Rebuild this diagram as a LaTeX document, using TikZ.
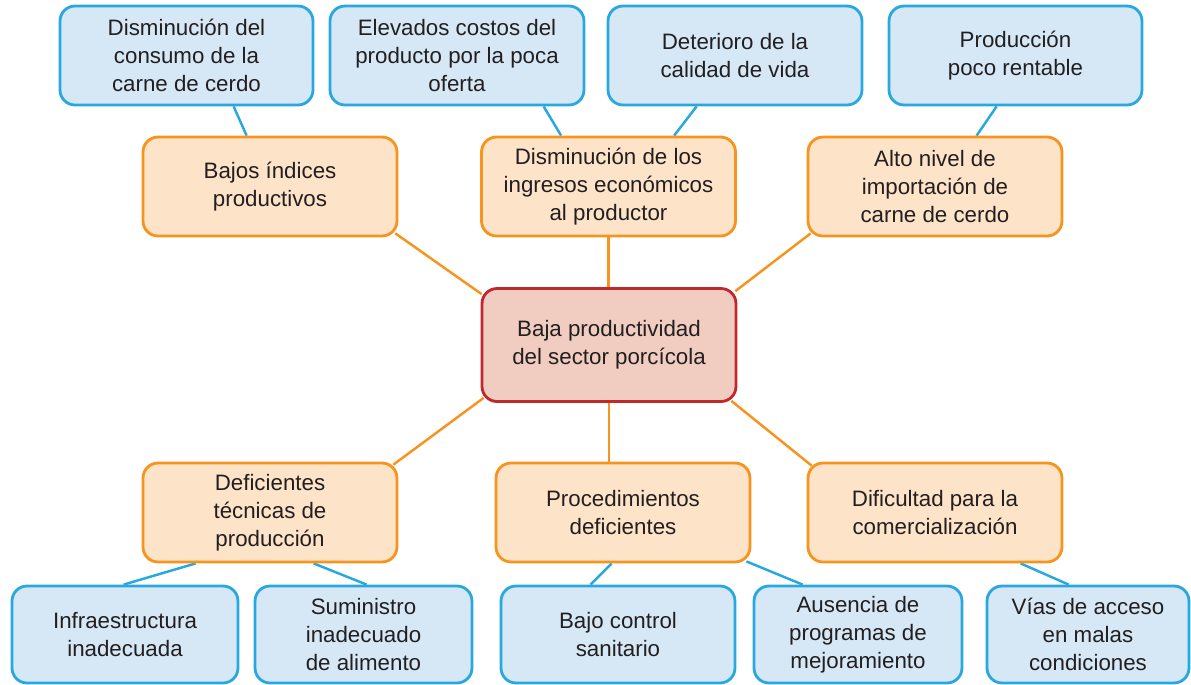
\documentclass[tikz,border=0pt]{standalone}
\usepackage{fontspec}
\setmainfont{Liberation Sans}
\usetikzlibrary{calc,backgrounds}
\definecolor{bl}{HTML}{29A8E0}
\definecolor{blf}{HTML}{D6E8F5}
\definecolor{orn}{HTML}{F7941D}
\definecolor{ornf}{HTML}{FDE3C8}
\definecolor{rd}{HTML}{C1272D}
\definecolor{rdf}{HTML}{F0CDC0}
\definecolor{txt}{HTML}{231F20}
\tikzset{
  box/.style={rounded corners=0.3cm, line width=1.6pt, align=center, inner sep=0pt,
    text=txt, font=\fontsize{12.7}{15.9}\selectfont},
  bluebox/.style={box, draw=bl, fill=blf},
  orangebox/.style={box, draw=orn, fill=ornf, minimum width=5.08cm, minimum height=1.98cm},
  redbox/.style={box, draw=rd, fill=rdf},
  blink/.style={draw=bl, line width=1.4pt},
  olink/.style={draw=orn, line width=1.4pt}
}
\begin{document}
\begin{tikzpicture}[x=0.02cm,y=-0.02cm]
\useasboundingbox (0,0) rectangle (1191,684);
% top blue row
\node[bluebox, minimum width=5.06cm, minimum height=1.98cm] (b1) at (186.5,55.5) {Disminución del\\consumo de la\\carne de cerdo};
\node[bluebox, minimum width=5.08cm, minimum height=1.98cm] (b2) at (457,55.5) {Elevados costos del\\producto por la poca\\oferta};
\node[bluebox, minimum width=5.08cm, minimum height=1.98cm] (b3) at (735,55.5) {Deterioro de la\\calidad de vida};
\node[bluebox, minimum width=5.06cm, minimum height=1.98cm] (b4) at (1015.5,55.5) {Producción\\poco rentable};
% top orange row
\node[orangebox] (o1) at (270,186.5) {Bajos índices\\productivos};
\node[orangebox] (o2) at (608.5,186.5) {Disminución de los\\ingresos económicos\\al productor};
\node[orangebox] (o3) at (935,186.5) {Alto nivel de\\importación de\\carne de cerdo};
% center
\node[redbox, minimum width=5.08cm, minimum height=2.26cm] (c) at (609,345) {Baja productividad\\del sector porcícola};
% bottom orange row
\node[orangebox] (o4) at (270,512.5) {Deficientes\\técnicas de\\producción};
\node[orangebox] (o5) at (623,512.5) {Procedimientos\\deficientes};
\node[orangebox] (o6) at (935,512.5) {Dificultad para la\\comercialización};
% bottom blue row
\node[bluebox, minimum width=4.52cm, minimum height=1.94cm] (l1) at (125,634.5) {Infraestructura\\inadecuada};
\node[bluebox, minimum width=4.34cm, minimum height=1.94cm] (l2) at (363.5,634.5) {Suministro\\inadecuado\\de alimento};
\node[bluebox, minimum width=4.68cm, minimum height=1.94cm] (l3) at (618,634.5) {Bajo control\\sanitario};
\node[bluebox, minimum width=4.16cm, minimum height=1.94cm] (l4) at (858,634.5) {Ausencia de\\programas de\\mejoramiento};
\node[bluebox, minimum width=4.04cm, minimum height=1.94cm] (l5) at (1088,634.5) {Vías de acceso\\en malas\\condiciones};
\begin{scope}[on background layer]
% blue links top
\draw[blink] ($(b1.south west)+(175,0)$) -- ($(o1.north west)+(105,0)$);
\draw[blink] ($(b2.south west)+(215,0)$) -- ($(o2.north west)+(81,0)$);
\draw[blink] ($(b3.south west)+(90,0)$) -- ($(o2.north west)+(194,0)$);
\draw[blink] ($(b4.south west)+(109,0)$) -- ($(o3.north west)+(170,0)$);
% orange links
\draw[olink] ($(o1.south east)+(-3,-4)$) -- ($(c.north west)+(1,7)$);
\draw[olink] (o2.south) -- (o2.south |- c.north);
\draw[olink] ($(o3.south west)+(4,-4)$) -- ($(c.north east)+(-2,4)$);
\draw[olink] ($(c.south west)+(3,-5)$) -- ($(o4.north east)+(-5,3)$);
\draw[olink] (c.south) -- (c.south |- o5.north);
\draw[olink] ($(c.south east)+(-6,-2)$) -- ($(o6.north west)+(5,4)$);
% blue links bottom
\draw[blink] ($(o4.south west)+(54,0)$) -- ($(l1.north west)+(113,0)$);
\draw[blink] ($(o4.south west)+(172,0)$) -- ($(l2.north west)+(113,0)$);
\draw[blink] ($(o5.south west)+(117,0)$) -- ($(l3.north west)+(91,0)$);
\draw[blink] ($(o5.south east)+(-5,-2)$) -- ($(l4.north west)+(50,0)$);
\draw[blink] ($(o6.south west)+(214,0)$) -- ($(l5.north west)+(83,0)$);
\end{scope}
\end{tikzpicture}
\end{document}
